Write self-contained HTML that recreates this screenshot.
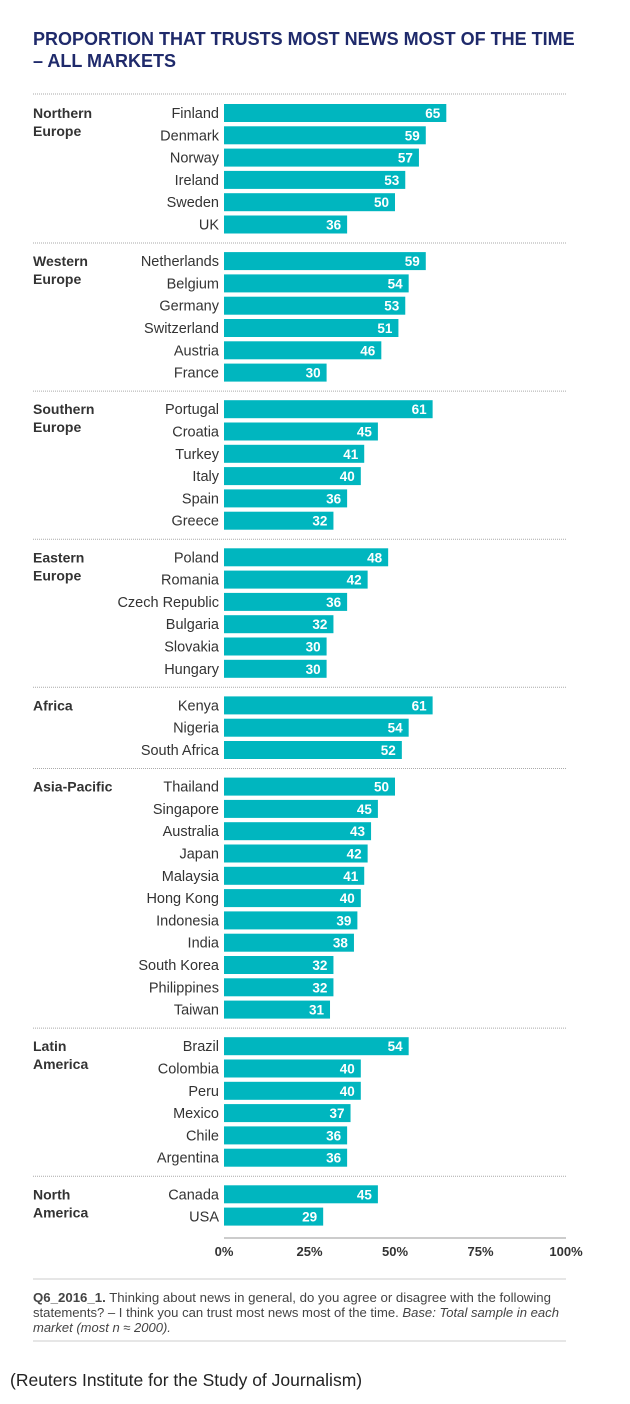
<!DOCTYPE html>
<html><head><meta charset="utf-8">
<style>
body{margin:0;background:#fff;width:630px;height:1399px;overflow:hidden;font-family:"Liberation Sans",sans-serif;}
</style></head>
<body>
<svg id="chart" width="630" height="1399" xmlns="http://www.w3.org/2000/svg">
<text x="33" y="45" font-size="18" font-weight="bold" fill="#1f2a6b">PROPORTION THAT TRUSTS MOST NEWS MOST OF THE TIME</text>
<text x="33" y="67" font-size="18" font-weight="bold" fill="#1f2a6b">– ALL MARKETS</text>
<g id="marks"></g>
<line x1="224" y1="1238" x2="566" y2="1238" stroke="#999" stroke-width="1"/>
<g id="ticks"></g>
<line x1="33" y1="1279" x2="566" y2="1279" stroke="#ccc" stroke-width="1"/>
<text x="33" y="1302" font-size="13" fill="#444" textLength="518" lengthAdjust="spacingAndGlyphs"><tspan font-weight="bold">Q6_2016_1.</tspan> Thinking about news in general, do you agree or disagree with the following</text>
<text x="33" y="1317" font-size="13" fill="#444" textLength="526" lengthAdjust="spacingAndGlyphs">statements? – I think you can trust most news most of the time. <tspan font-style="italic">Base: Total sample in each</tspan></text>
<text x="33" y="1332" font-size="13" fill="#444" font-style="italic">market (most n ≈ 2000).</text>
<line x1="33" y1="1341" x2="566" y2="1341" stroke="#ccc" stroke-width="1"/>
<text x="10" y="1386" font-size="17.5" fill="#222">(Reuters Institute for the Study of Journalism)</text>
</svg>
<script>
const regions=["Northern|Europe","Western|Europe","Southern|Europe","Eastern|Europe","Africa","Asia-Pacific","Latin|America","North|America"];
const countries=[
["Finland","Denmark","Norway","Ireland","Sweden","UK"],
["Netherlands","Belgium","Germany","Switzerland","Austria","France"],
["Portugal","Croatia","Turkey","Italy","Spain","Greece"],
["Poland","Romania","Czech Republic","Bulgaria","Slovakia","Hungary"],
["Kenya","Nigeria","South Africa"],
["Thailand","Singapore","Australia","Japan","Malaysia","Hong Kong","Indonesia","India","South Korea","Philippines","Taiwan"],
["Brazil","Colombia","Peru","Mexico","Chile","Argentina"],
["Canada","USA"]];
const values=[
[65,59,57,53,50,36],
[59,54,53,51,46,30],
[61,45,41,40,36,32],
[48,42,36,32,30,30],
[61,54,52],
[50,45,43,42,41,40,39,38,32,32,31],
[54,40,40,37,36,36],
[45,29]];
const tickValues=[0,25,50,75,100];
const tickLabels=["0%","25%","50%","75%","100%"];

const NS="http://www.w3.org/2000/svg";
const x0=224,xw=342;
const xs=v=>x0+v/100*xw;
const pitch=22.3,gap=14.3,barH=18;
const g=document.getElementById('marks');
function el(t,a,txt){const e=document.createElementNS(NS,t);for(const k in a)e.setAttribute(k,a[k]);if(txt!==undefined)e.textContent=txt;return e;}
let y=113;
function sep(yy){const l=el('line',{x1:33,y1:yy,x2:566,y2:yy,stroke:'#aaa','stroke-width':1,'stroke-dasharray':'1,1'});

g.appendChild(l);}
sep(94);
regions.forEach((r,gi)=>{
  const parts=r.split('|');
  parts.forEach((p,pi)=>{const t=el('text',{x:33,y:y+5+pi*18,'font-size':14,'font-weight':'bold',fill:'#333'},p);
    
    g.appendChild(t);});
  countries[gi].forEach((c,i)=>{
    const v=values[gi][i];
    const lab=el('text',{x:219,y:y+5,'font-size':14.5,fill:'#333','text-anchor':'end'},c);
    
    g.appendChild(lab);
    const b=el('rect',{x:x0,y:y-barH/2,width:xs(v)-x0,height:barH,fill:'#00b6bf'});
    
    g.appendChild(b);
    const vl=el('text',{x:xs(v)-6,y:y+5,'font-size':13.5,'font-weight':'bold',fill:'#fff','text-anchor':'end'},v);
    
    g.appendChild(vl);
    if(i<countries[gi].length-1) y+=pitch;
  });
  if(gi<regions.length-1){sep(y+18.5);y+=pitch+gap;}
});
const tg=document.getElementById('ticks');
tickValues.forEach((t,i)=>{const e=el('text',{x:xs(t),y:1256,'font-size':13,'font-weight':'bold',fill:'#333','text-anchor':'middle'},tickLabels[i]);

tg.appendChild(e);});
</script>
</body></html>
